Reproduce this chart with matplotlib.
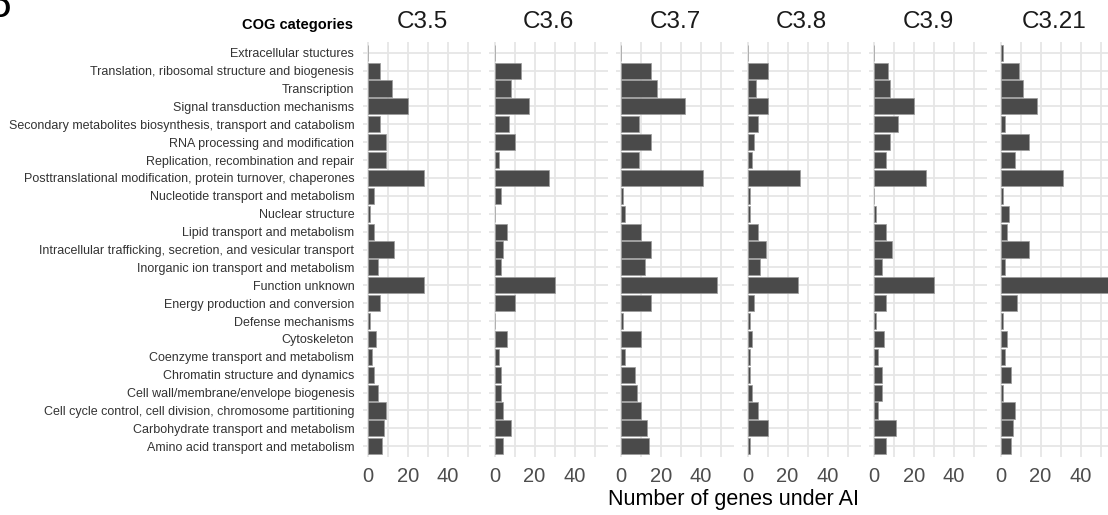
import matplotlib
matplotlib.use("Agg")
import matplotlib.pyplot as plt
import numpy as np

plt.rcParams['font.family'] = ['Liberation Sans', 'DejaVu Sans']

categories = [
    "Extracellular stuctures",
    "Translation, ribosomal structure and biogenesis",
    "Transcription",
    "Signal transduction mechanisms",
    "Secondary metabolites biosynthesis, transport and catabolism",
    "RNA processing and modification",
    "Replication, recombination and repair",
    "Posttranslational modification, protein turnover, chaperones",
    "Nucleotide transport and metabolism",
    "Nuclear structure",
    "Lipid transport and metabolism",
    "Intracellular trafficking, secretion, and vesicular transport",
    "Inorganic ion transport and metabolism",
    "Function unknown",
    "Energy production and conversion",
    "Defense mechanisms",
    "Cytoskeleton",
    "Coenzyme transport and metabolism",
    "Chromatin structure and dynamics",
    "Cell wall/membrane/envelope biogenesis",
    "Cell cycle control, cell division, chromosome partitioning",
    "Carbohydrate transport and metabolism",
    "Amino acid transport and metabolism",
]

panels = ["C3.5", "C3.6", "C3.7", "C3.8", "C3.9", "C3.21"]

c3_5 = [0, 6, 12, 20, 6, 9, 9, 28, 3, 1, 3, 13, 5, 28, 6, 1, 4, 2, 3, 5, 9, 8, 7]
c3_6 = [0, 13, 8, 17, 7, 10, 2, 27, 3, 0, 6, 4, 3, 30, 10, 0, 6, 2, 3, 3, 4, 8, 4]
c3_7 = [0, 15, 18, 32, 9, 15, 9, 41, 1, 2, 10, 15, 12, 48, 15, 1, 10, 2, 7, 8, 10, 13, 14]
c3_8 = [0, 10, 4, 10, 5, 3, 2, 26, 1, 1, 5, 9, 6, 25, 3, 1, 2, 1, 1, 2, 5, 10, 1]
c3_9 = [0, 7, 8, 20, 12, 8, 6, 26, 0, 1, 6, 9, 4, 30, 6, 1, 5, 2, 4, 4, 2, 11, 6]
c3_21 = [1, 9, 11, 18, 2, 14, 7, 31, 1, 4, 3, 14, 2, 54, 8, 1, 3, 2, 5, 1, 7, 6, 5]

series = [c3_5, c3_6, c3_7, c3_8, c3_9, c3_21]

W, H = 1108, 515
fig = plt.figure(figsize=(W / 100, H / 100), dpi=100)

xmax = max(max(s) for s in series)
xlim = (-0.05 * xmax, 1.05 * xmax)
n = len(categories)
ypos = np.arange(n)

panel_left0 = 362.6
panel_step = 126.5
panel_w = 118.8
panel_top = 42
panel_bot = 457

grid_col = "#E6E6E6"
bar_col = "#4A4A4A"

for i, (name, vals) in enumerate(zip(panels, series)):
    left = panel_left0 + i * panel_step
    ax = fig.add_axes([left / W, 1 - panel_bot / H, panel_w / W, (panel_bot - panel_top) / H])
    ax.set_xlim(*xlim)
    ax.set_ylim(n - 1 + 0.6, -0.6)
    for gx in [0, 10, 20, 30, 40, 50]:
        ax.axvline(gx, color=grid_col, lw=1.3, zorder=0)
    for gy in ypos:
        ax.axhline(gy, color=grid_col, lw=1.3, zorder=0)
    ax.barh(ypos, vals, height=0.9, color=bar_col, edgecolor="#9a9a9a", linewidth=0.5, zorder=2)
    for s in ax.spines.values():
        s.set_visible(False)
    ax.set_xticks([0, 20, 40])
    ax.set_xticklabels(["0", "20", "40"], fontsize=14.5, color="#4D4D4D")
    ax.tick_params(axis='x', length=0, pad=7)
    if i == 0:
        ax.set_yticks(ypos)
        ax.set_yticklabels(categories, fontsize=9.0, color="#333333")
        ax.tick_params(axis='y', length=0, pad=6)
    else:
        ax.set_yticks([])
    ax.set_title(name, fontsize=17.5, color="#1A1A1A", pad=10)

fig.text(353 / W, 1 - 25 / H, "COG categories", fontsize=10.5, fontweight="bold",
         ha="right", va="center", color="#000000")
fig.text(733 / W, 1 - 499 / H, "Number of genes under AI", fontsize=15.5,
         ha="center", va="center", color="#000000")
fig.text(-10 / W, 1 - 10 / H, "D", fontsize=20, fontweight="bold", ha="left", va="center")

fig.savefig("out.png", dpi=100)
